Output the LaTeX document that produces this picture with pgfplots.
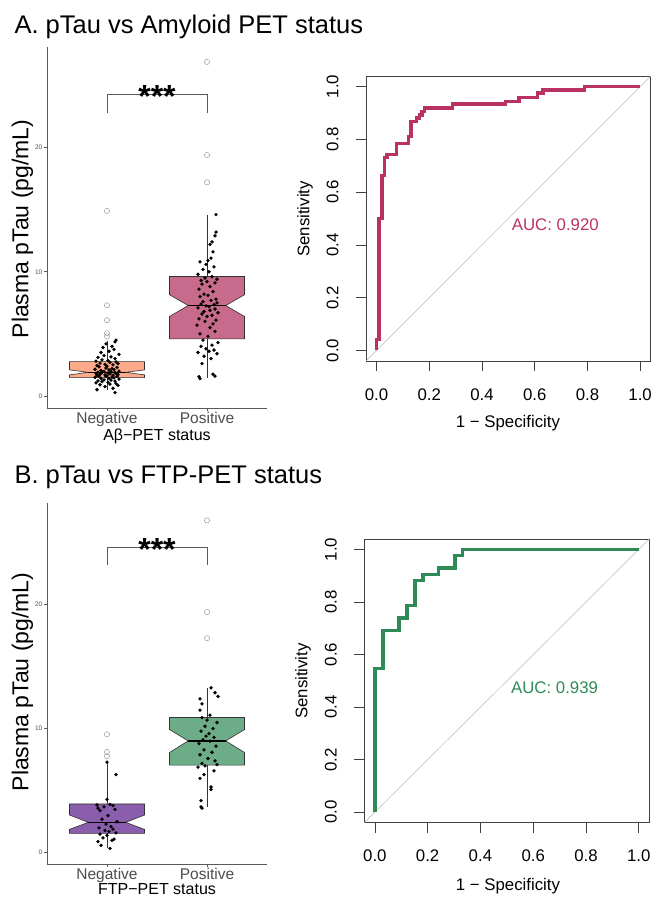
\documentclass[border=0pt]{standalone}
\usepackage{fontspec}
\setmainfont{Liberation Sans}
\usepackage{pgfplots}
\pgfplotsset{compat=1.18}

\definecolor{negA}{RGB}{252,170,138}
\definecolor{posA}{RGB}{200,106,140}
\definecolor{negB}{RGB}{138,94,172}
\definecolor{posB}{RGB}{108,172,134}
\definecolor{rocA}{RGB}{186,50,100}
\definecolor{rocB}{RGB}{46,139,87}
\definecolor{axisgray}{RGB}{90,90,90}
\definecolor{labgray}{RGB}{77,77,77}
\definecolor{boxgray}{RGB}{51,51,51}

\pgfplotsset{
  boxpanel/.style={
    scale only axis, anchor=south west,
    width=220pt, height=361pt,
    xmin=0.4, xmax=2.6,
    axis x line*=bottom, axis y line*=left,
    axis line style={line width=0.8pt, color=axisgray, -},
    xtick={1,2}, xticklabels={Negative,Positive},
    ytick={0,10,20},
    tick style={color=axisgray, line width=0.6pt},
    tick align=outside, major tick length=3pt,
    xticklabel style={font=\fontsize{15.5}{16}\selectfont, text=labgray, inner sep=1pt},
    yticklabel style={font=\fontsize{6.5}{7}\selectfont, text=labgray, inner sep=1.5pt},
    /pgf/number format/assume math mode=true,
    clip=false,
  },
  rocpanel/.style={
    scale only axis, anchor=south west,
    xmin=-0.04, xmax=1.04, ymin=-0.04, ymax=1.04,
    axis line style={line width=0.7pt, color=black!75},
    xtick={0,0.2,0.4,0.6,0.8,1}, ytick={0,0.2,0.4,0.6,0.8,1},
    tick pos=left, tick align=outside, major tick length=10pt,
    tick style={color=black!75, line width=0.7pt},
    xticklabel={\pgfmathprintnumber[fixed,fixed zerofill,precision=1]{\tick}},
    yticklabel={\pgfmathprintnumber[fixed,fixed zerofill,precision=1]{\tick}},
    xticklabel style={font=\fontsize{16.8}{18}\selectfont},
    xticklabel shift=14pt,
    yticklabel style={font=\fontsize{16.8}{18}\selectfont, rotate=90, anchor=south},
    yticklabel shift=14pt,
    /pgf/number format/assume math mode=true,
    clip=false,
  },
  box/.style={draw=boxgray, line width=0.6pt},
  whisk/.style={boxgray, line width=0.7pt},
  med/.style={black, line width=1.3pt},
  outl/.style={only marks, mark=o, mark size=2.6pt, draw=gray!80, mark options={line width=0.5pt}},
  jit/.style={only marks, mark=*, mark size=1.5pt, black},
}

\begin{document}
\begin{tikzpicture}
\useasboundingbox (0,0) rectangle (653pt,-901pt);

% ---------- A: boxplot ----------
\begin{axis}[boxpanel, at={(47pt,-408pt)}, ymin=-0.97, ymax=28.1]
\addplot[whisk] coordinates {(1,2.77) (1,4.4)};
\addplot[whisk] coordinates {(1,1.48) (1,0.5)};
\addplot[whisk] coordinates {(2,9.62) (2,14.6)};
\addplot[whisk] coordinates {(2,4.6) (2,1.42)};
\addplot[box, fill=negA] coordinates {(0.625,1.48) (0.625,1.70) (0.8125,1.90) (0.625,2.10) (0.625,2.77) (1.375,2.77) (1.375,2.10) (1.1875,1.90) (1.375,1.70) (1.375,1.48) (0.625,1.48)};
\addplot[box, fill=posA] coordinates {(1.625,4.6) (1.625,6.4) (1.8125,7.28) (1.625,8.15) (1.625,9.62) (2.375,9.62) (2.375,8.15) (2.1875,7.28) (2.375,6.4) (2.375,4.6) (1.625,4.6)};
\addplot[med] coordinates {(0.8125,1.90) (1.1875,1.90)};
\addplot[med] coordinates {(1.8125,7.28) (2.1875,7.28)};
\addplot[outl] coordinates {(1,14.9) (1,7.3) (1,6.1) (1,5.05) (1,4.8) (2,26.9) (2,19.4) (2,17.2)};
\addplot[jit] coordinates {
(1.08,0.27) (0.90,0.50) (1.06,0.62) (0.98,0.75) (1.11,0.85) (0.93,0.90) (1.03,0.95) (1.09,1.00)
(0.89,1.05) (1.01,1.10) (0.95,1.15) (1.08,1.20) (0.91,1.22) (1.04,1.28) (0.97,1.30) (1.12,1.35)
(0.94,1.40) (1.02,1.42) (1.07,1.45) (0.88,1.50) (1.05,1.52) (0.99,1.55) (1.10,1.58) (0.92,1.60)
(1.00,1.62) (0.90,1.65) (1.06,1.68) (0.98,1.70) (1.11,1.72) (0.93,1.75) (1.03,1.78) (1.09,1.80)
(0.89,1.82) (1.01,1.85) (0.95,1.88) (1.08,1.90) (0.91,1.92) (1.04,1.95) (0.97,1.98) (1.12,2.00)
(0.94,2.05) (1.02,2.10) (1.07,2.12) (0.88,2.15) (1.05,2.20) (0.99,2.25) (1.10,2.30) (0.92,2.35)
(1.00,2.40) (0.90,2.45) (1.06,2.50) (0.98,2.55) (1.11,2.60) (0.93,2.65) (1.03,2.70) (1.09,2.75)
(0.89,2.80) (1.01,2.85) (0.95,2.90) (1.08,3.00) (0.91,3.10) (1.04,3.15) (0.97,3.25) (1.12,3.35)
(0.94,3.50) (1.02,3.60) (1.07,3.75) (0.96,3.90) (1.05,4.00) (0.99,4.20) (1.08,4.35) (1.09,4.50)
};
\addplot[jit] coordinates {
(1.93,1.40) (1.92,1.55) (2.08,1.60) (2.06,1.75) (1.95,2.60) (2.04,3.00) (1.97,3.20) (2.10,3.40)
(1.91,3.50) (2.02,3.60) (2.07,3.70) (1.99,3.80) (1.94,4.00) (2.05,4.10) (2.11,4.30) (1.96,4.50)
(2.01,4.80) (1.93,5.00) (2.08,5.20) (2.03,5.50) (1.90,5.70) (2.06,5.80) (1.98,6.00) (2.09,6.10)
(1.92,6.20) (2.00,6.40) (2.05,6.50) (1.95,6.60) (2.11,6.70) (1.97,6.80) (2.03,6.90) (2.08,7.00)
(1.91,7.10) (2.02,7.20) (1.99,7.25) (2.07,7.35) (1.94,7.40) (2.10,7.50) (1.96,7.60) (2.04,7.70)
(2.09,7.80) (1.93,8.00) (2.01,8.10) (1.97,8.20) (2.06,8.40) (1.92,8.60) (2.03,8.80) (1.95,9.00)
(2.08,9.10) (2.00,9.20) (1.94,9.30) (2.10,9.40) (1.98,9.50) (2.05,9.60) (1.91,9.80) (2.02,10.00)
(1.96,10.20) (2.07,10.40) (1.99,10.60) (1.93,10.80) (2.01,10.90) (2.04,11.10) (2.06,11.60) (2.03,12.20)
(2.05,12.40) (2.08,12.90) (2.09,13.20) (2.09,14.60)
};
\addplot[color=axisgray, line width=0.7pt] coordinates {(1,22.8) (1,24.3) (2,24.3) (2,22.8)};
\node[anchor=base, yshift=-13pt, font=\fontsize{32}{34}\selectfont\bfseries] at (axis cs:1.5,24.3) {***};
\end{axis}

% ---------- A: ROC ----------
\begin{axis}[rocpanel, at={(366pt,-361pt)}, width=284.7pt, height=285pt]
\addplot[gray!55, line width=0.5pt] coordinates {(-0.04,-0.04) (1.04,1.04)};
\addplot[rocA, line width=3.5pt, line join=miter] coordinates {
(0,0) (0,0.042) (0.010,0.042) (0.010,0.50) (0.020,0.50) (0.020,0.662) (0.030,0.662) (0.030,0.731)
(0.040,0.731) (0.040,0.743) (0.076,0.743) (0.076,0.785) (0.121,0.785) (0.121,0.810) (0.131,0.810)
(0.131,0.867) (0.152,0.867) (0.152,0.880) (0.162,0.880) (0.162,0.893) (0.172,0.893) (0.172,0.905)
(0.182,0.905) (0.182,0.918) (0.288,0.918) (0.288,0.934) (0.490,0.934) (0.490,0.944) (0.540,0.944)
(0.540,0.958) (0.611,0.958) (0.611,0.975) (0.631,0.975) (0.631,0.987) (0.788,0.987) (0.788,1.0) (1.0,1.0)
};
\node[anchor=west, text=rocA, font=\fontsize{16.8}{18}\selectfont] at (axis cs:0.5,0.475) {AUC: 0.920};
\end{axis}

% ---------- B: boxplot ----------
\begin{axis}[boxpanel, at={(47pt,-864pt)}, ymin=-0.91, ymax=28.2]
\addplot[whisk] coordinates {(1,3.93) (1,7.33)};
\addplot[whisk] coordinates {(1,1.56) (1,0.35)};
\addplot[whisk] coordinates {(2,10.9) (2,13.3)};
\addplot[whisk] coordinates {(2,7.06) (2,3.7)};
\addplot[box, fill=negB] coordinates {(0.625,1.56) (0.625,1.88) (0.8125,2.45) (0.625,3.04) (0.625,3.93) (1.375,3.93) (1.375,3.04) (1.1875,2.45) (1.375,1.88) (1.375,1.56) (0.625,1.56)};
\addplot[box, fill=posB] coordinates {(1.625,7.06) (1.625,8.08) (1.8125,9.02) (1.625,9.93) (1.625,10.9) (2.375,10.9) (2.375,9.93) (2.1875,9.02) (2.375,8.08) (2.375,7.06) (1.625,7.06)};
\addplot[med] coordinates {(0.8125,2.45) (1.1875,2.45)};
\addplot[med] coordinates {(1.8125,9.02) (2.1875,9.02)};
\addplot[outl] coordinates {(1,9.55) (1,8.13) (1,7.78) (2,26.8) (2,19.4) (2,17.3)};
\addplot[jit] coordinates {
(1.03,0.35) (0.94,0.60) (0.91,0.90) (1.05,1.00) (1.07,1.10) (0.96,1.20) (1.00,1.40) (0.93,1.50)
(1.09,1.60) (1.02,1.70) (0.98,1.80) (1.06,1.90) (0.92,2.00) (1.04,2.10) (0.99,2.30) (1.10,2.50)
(0.95,2.70) (1.01,3.00) (0.93,3.40) (1.08,3.50) (0.91,3.60) (0.97,3.70) (1.06,3.80) (0.90,3.85)
(1.03,3.90) (1.00,4.30) (1.09,6.30) (1.00,7.30)
};
\addplot[jit] coordinates {
(1.95,3.60) (1.94,3.70) (1.94,4.20) (2.04,5.10) (2.04,5.30) (1.93,6.00) (1.97,6.30) (2.07,6.60)
(1.91,6.90) (1.98,7.00) (2.10,7.10) (1.95,7.20) (2.08,7.40) (2.01,7.60) (1.93,7.90) (2.05,8.10)
(1.97,8.30) (2.09,8.60) (1.92,8.80) (2.03,9.00) (1.96,9.10) (2.07,9.30) (1.99,9.40) (2.02,9.60)
(1.94,9.80) (2.06,10.00) (1.98,10.20) (2.10,10.50) (2.00,10.70) (1.95,10.90) (2.03,11.10) (1.93,11.50)
(1.95,12.00) (1.93,12.40) (2.11,12.60) (2.08,12.90) (2.04,13.30)
};
\addplot[color=axisgray, line width=0.7pt] coordinates {(1,23.2) (1,24.65) (2,24.65) (2,23.2)};
\node[anchor=base, yshift=-13pt, font=\fontsize{32}{34}\selectfont\bfseries] at (axis cs:1.5,24.65) {***};
\end{axis}

% ---------- B: ROC ----------
\begin{axis}[rocpanel, at={(364.3pt,-822.7pt)}, width=285pt, height=283.7pt]
\addplot[gray!55, line width=0.5pt] coordinates {(-0.04,-0.04) (1.04,1.04)};
\addplot[rocB, line width=3.5pt, line join=miter] coordinates {
(0,0) (0,0.547) (0.030,0.547) (0.030,0.692) (0.091,0.692) (0.091,0.740) (0.121,0.740) (0.121,0.786)
(0.152,0.786) (0.152,0.882) (0.182,0.882) (0.182,0.905) (0.242,0.905) (0.242,0.929) (0.303,0.929)
(0.303,0.977) (0.333,0.977) (0.333,1.0) (1.0,1.0)
};
\node[anchor=west, text=rocB, font=\fontsize{16.8}{18}\selectfont] at (axis cs:0.503,0.474) {AUC: 0.939};
\end{axis}

% ---------- titles and axis titles ----------
\node[anchor=base west, font=\fontsize{25.5}{28}\selectfont] at (11pt,-34pt) {A. pTau vs Amyloid PET status};
\node[anchor=base west, font=\fontsize{25.5}{28}\selectfont] at (11pt,-483pt) {B. pTau vs FTP-PET status};
\node[rotate=90, font=\fontsize{23}{25}\selectfont] at (22.5pt,-229pt) {Plasma pTau (pg/mL)};
\node[rotate=90, font=\fontsize{23}{25}\selectfont] at (22.5pt,-682pt) {Plasma pTau (pg/mL)};
\node[font=\fontsize{16}{18}\selectfont] at (157pt,-436pt) {Aβ−PET status};
\node[font=\fontsize{16}{18}\selectfont] at (157pt,-889pt) {FTP−PET status};
\node[rotate=90, font=\fontsize{16.8}{18}\selectfont] at (305pt,-219pt) {Sensitivity};
\node[font=\fontsize{16.8}{18}\selectfont] at (508pt,-423pt) {1 − Specificity};
\node[rotate=90, font=\fontsize{16.8}{18}\selectfont] at (303pt,-681pt) {Sensitivity};
\node[font=\fontsize{16.8}{18}\selectfont] at (508pt,-886pt) {1 − Specificity};
\end{tikzpicture}
\end{document}
